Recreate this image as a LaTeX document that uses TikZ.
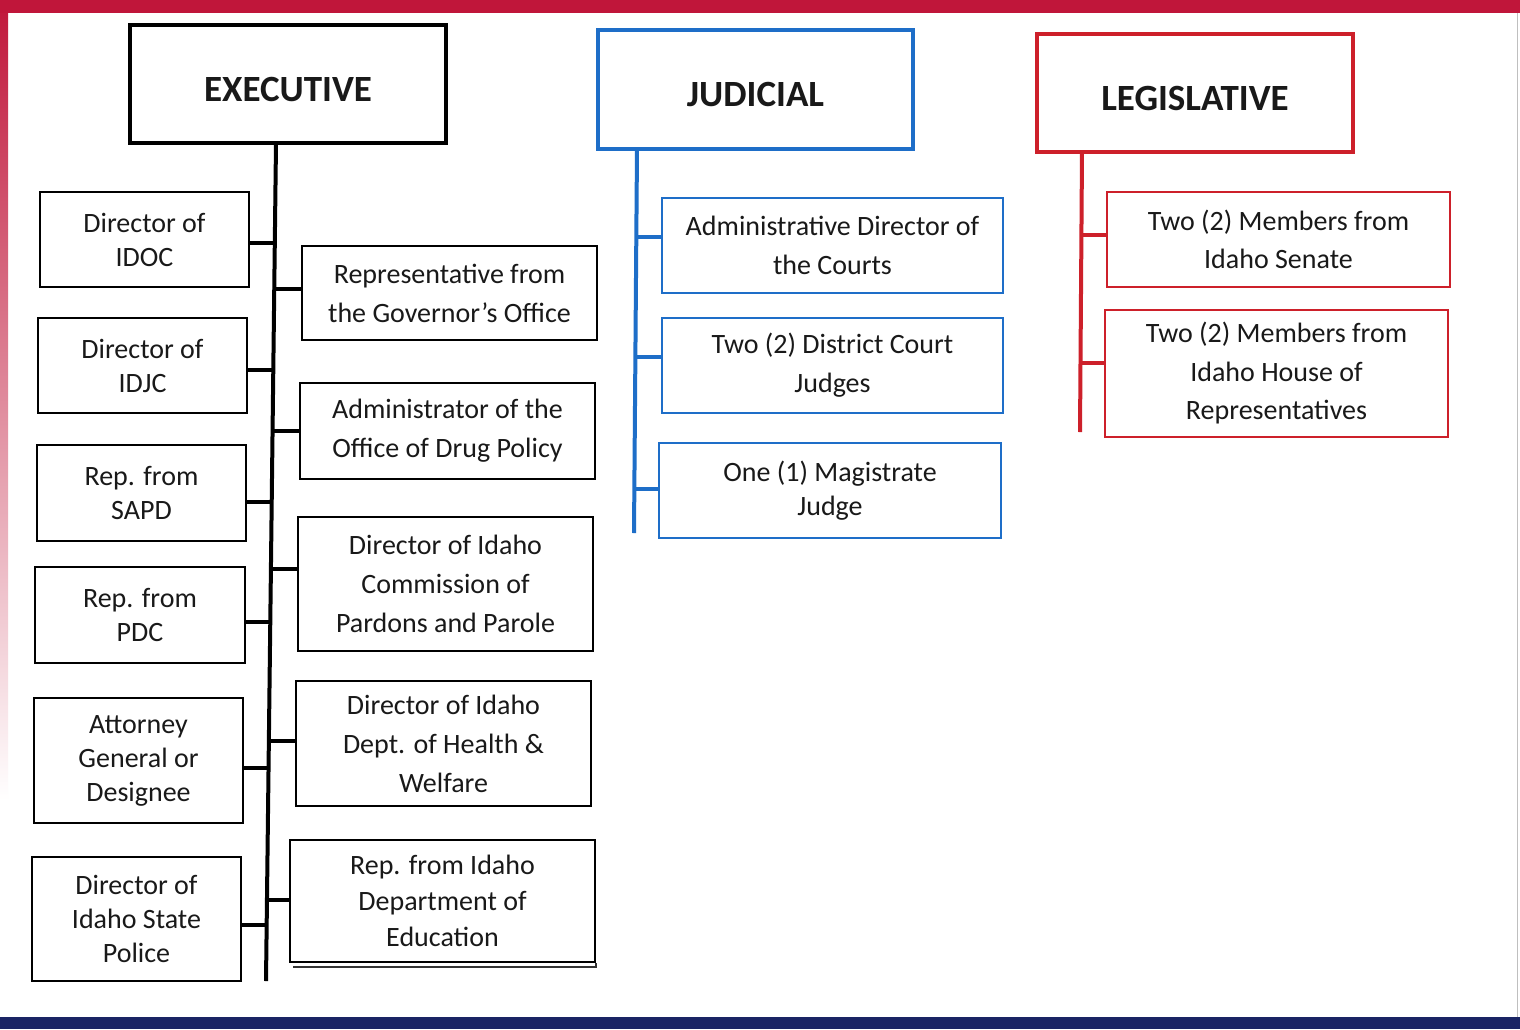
\documentclass[tikz,border=0pt]{standalone}
\usepackage{fontspec}
\setmainfont{Carlito}
\definecolor{jblue}{RGB}{30,110,200}
\definecolor{lred}{RGB}{205,32,42}
\definecolor{topred}{RGB}{192,22,58}
\definecolor{navy}{RGB}{26,36,100}
\begin{document}
\begin{tikzpicture}[x=1pt,y=-1pt,
  head/.style={draw=#1,line width=4pt,inner sep=0pt,text height=34pt,text depth=0pt,font=\fontsize{37}{40}\selectfont\bfseries,text=black!90},
  member/.style={draw=#1,line width=2pt,inner sep=0pt,align=center,font=\fontsize{28}{34}\selectfont,text=black!90},
  memberw/.style={member=#1,font=\fontsize{28}{39}\selectfont},
  trunk/.style={draw=#1,line width=4pt},
  link/.style={draw=#1,line width=4pt}]
\useasboundingbox (0,0) rectangle (1520,1029);
% frame
\fill[white] (0,0) rectangle (1520,1029);
\shade[top color=topred,bottom color=white] (0,0) rectangle (8,800);
\fill[topred] (0,0) rectangle (1520,13);
\fill[navy] (0,1017) rectangle (1520,1029);
\draw[black!25,line width=1pt] (1517,13) -- (1517,1017);

% headings
\node[head=black,minimum width=316pt,minimum height=118pt] (exec) at (288,84) {EXECUTIVE};
\node[head=jblue,minimum width=315pt,minimum height=119pt] (jud) at (755.5,89.5) {JUDICIAL};
\node[head=lred,minimum width=316pt,minimum height=118pt] (leg) at (1195,93) {LEGISLATIVE};

% executive left column
\node[member=black,minimum width=209pt,minimum height=95pt] (idoc) at (144.5,239.5) {Director of\\IDOC};
\node[member=black,minimum width=209pt,minimum height=95pt] (idjc) at (142.5,365.5) {Director of\\IDJC};
\node[member=black,minimum width=209pt,minimum height=96pt] (sapd) at (141.5,493) {Rep. from\\SAPD};
\node[member=black,minimum width=210pt,minimum height=96pt] (pdc) at (140,615) {Rep. from\\PDC};
\node[member=black,minimum width=209pt,minimum height=125pt] (ag) at (138.5,760.5) {Attorney\\General or\\Designee};
\node[member=black,minimum width=209pt,minimum height=124pt] (isp) at (136.5,919) {Director of\\Idaho State\\Police};

% executive right column
\node[memberw=black,minimum width=295pt,minimum height=94pt] (gov) at (449.5,293) {Representative from\\the Governor’s Office};
\node[memberw=black,minimum width=295pt,minimum height=96pt] (odp) at (447.5,431) {Administrator of the\\Office of Drug Policy};
\node[memberw=black,minimum width=295pt,minimum height=134pt] (ppc) at (445.5,584) {Director of Idaho\\Commission of\\Pardons and Parole};
\node[memberw=black,minimum width=295pt,minimum height=125pt] (hw) at (443.5,743.5) {Director of Idaho\\Dept. of Health \&\\Welfare};
\node[member=black,font=\fontsize{28}{36}\selectfont,minimum width=305pt,minimum height=122pt] (edu) at (442.5,901) {Rep. from Idaho\\Department of\\Education};
\draw[black!80,line width=1.5pt] ([xshift=4pt,yshift=-4pt]edu.south west) -- ([yshift=-4pt]edu.south east) -- (edu.south east);

% executive trunk
\coordinate (ebot) at (266,981);
\draw[trunk=black] (276,143) -- (ebot);
\coordinate (t1) at (274,243); \coordinate (t2) at (273,370); \coordinate (t3) at (271,502);
\coordinate (t4) at (270,622); \coordinate (t5) at (268,768); \coordinate (t6) at (267,925);
\draw[link=black] (t1) -- (t1 -| idoc.east);
\draw[link=black] (t2) -- (t2 -| idjc.east);
\draw[link=black] (t3) -- (t3 -| sapd.east);
\draw[link=black] (t4) -- (t4 -| pdc.east);
\draw[link=black] (t5) -- (t5 -| ag.east);
\draw[link=black] (t6) -- (t6 -| isp.east);
\coordinate (r1) at (274,289); \coordinate (r2) at (272,431); \coordinate (r3) at (271,569);
\coordinate (r4) at (269,741); \coordinate (r5) at (267,900);
\draw[link=black] (r1) -- (r1 -| gov.west);
\draw[link=black] (r2) -- (r2 -| odp.west);
\draw[link=black] (r3) -- (r3 -| ppc.west);
\draw[link=black] (r4) -- (r4 -| hw.west);
\draw[link=black] (r5) -- (r5 -| edu.west);

% judicial
\node[memberw=jblue,minimum width=341pt,minimum height=95pt] (adc) at (832.5,245.5) {Administrative Director of\\the Courts};
\node[memberw=jblue,minimum width=341pt,minimum height=95pt] (dcj) at (832.5,365.5) {Two (2) District Court\\Judges};
\node[member=jblue,minimum width=342pt,minimum height=95pt] (mj) at (830,490.5) {One (1) Magistrate\\Judge};
\coordinate (jbot) at (634,533);
\draw[trunk=jblue] (637,149) -- (jbot);
\coordinate (j1) at (636,237); \coordinate (j2) at (636,357); \coordinate (j3) at (635,489);
\draw[link=jblue] (j1) -- (j1 -| adc.west);
\draw[link=jblue] (j2) -- (j2 -| dcj.west);
\draw[link=jblue] (j3) -- (j3 -| mj.west);

% legislative
\node[memberw=lred,font=\fontsize{28}{38}\selectfont,minimum width=343pt,minimum height=95pt] (sen) at (1278.5,239.5) {Two (2) Members from\\Idaho Senate};
\node[memberw=lred,font=\fontsize{28}{38.5}\selectfont,minimum width=343pt,minimum height=127pt] (house) at (1276.5,373.5) {Two (2) Members from\\Idaho House of\\Representatives};
\coordinate (lbot) at (1080,432);
\draw[trunk=lred] (1082,152) -- (lbot);
\coordinate (l1) at (1082,235); \coordinate (l2) at (1081,363);
\draw[link=lred] (l1) -- (l1 -| sen.west);
\draw[link=lred] (l2) -- (l2 -| house.west);
\end{tikzpicture}
\end{document}
